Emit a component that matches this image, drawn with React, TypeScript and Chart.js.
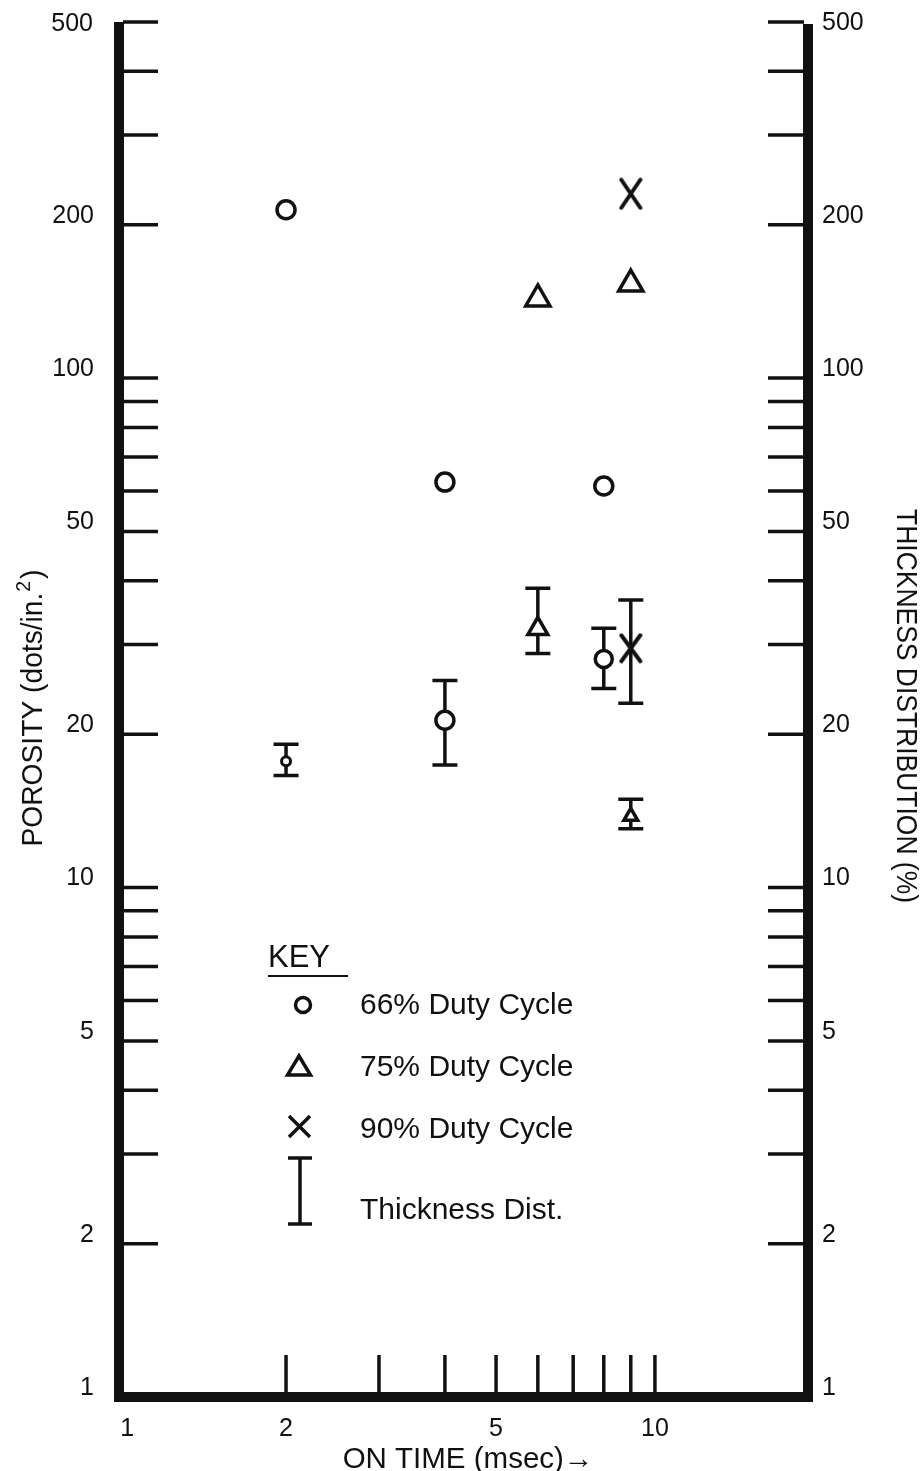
import React, { useEffect, useRef } from 'react';
import { Chart, registerables } from 'chart.js';

Chart.register(...registerables);

// ---------- axis ticks ----------
const xTickLabels = [1, 2, 5, 10];
const xTickMarks = [2, 3, 4, 5, 6, 7, 8, 9, 10];
const yTickLabels = [1, 2, 5, 10, 20, 50, 100, 200, 500];
const yTickMarks = [2, 3, 4, 5, 6, 7, 8, 9, 10, 20, 30, 40, 50, 60, 70, 80, 90, 100, 200, 300, 400, 500];
const yTopLabel = 500;

// ---------- porosity (left axis, dots/in.^2) ----------
const poro66Time = [2, 4, 8];
const poro66Value = [214, 62.5, 61.4];
const poro75Time = [6, 9];
const poro75Value = [143, 153];
const poro90Time = [9];
const poro90Value = [230];

// ---------- thickness distribution (right axis, %) ----------
const thick66Time = [2, 4, 8];
const thick66Value = [17.7, 21.3, 28.1];
const thick66Low = [16.6, 17.4, 24.6];
const thick66High = [19.1, 25.5, 32.3];
const thick75Time = [6, 9];
const thick75Value = [32.2, 13.8];
const thick75Low = [28.8, 13.05];
const thick75High = [38.7, 14.9];
const thick90Time = [9];
const thick90Value = [29.5];
const thick90Low = [23.0];
const thick90High = [36.7];

const legendLabels = ['66% Duty Cycle', '75% Duty Cycle', '90% Duty Cycle', 'Thickness Dist.'];

const INK = '#111';
const FONT = '"Liberation Sans", Arial, Helvetica, sans-serif';
const TICK_SIZE = 25;

function pts(xs: number[], ys: number[]) {
  return xs.map((x, i) => ({ x, y: ys[i] }));
}

function makeX(w: number, h: number, lw: number): HTMLCanvasElement {
  const c = document.createElement('canvas');
  c.width = w;
  c.height = h;
  const g = c.getContext('2d')!;
  g.strokeStyle = INK;
  g.lineWidth = lw;
  g.lineCap = 'round';
  const p = lw / 2 + 0.5;
  g.beginPath();
  g.moveTo(p, p);
  g.lineTo(w - p, h - p);
  g.moveTo(w - p, p);
  g.lineTo(p, h - p);
  g.stroke();
  return c;
}

const errorBarGroups = [
  { time: thick66Time, low: thick66Low, high: thick66High },
  { time: thick75Time, low: thick75Low, high: thick75High },
  { time: thick90Time, low: thick90Low, high: thick90High },
];

function drawFitted(
  ctx: CanvasRenderingContext2D,
  text: string,
  cx: number,
  cy: number,
  size: number,
  rotation: number,
  target: number
) {
  ctx.save();
  ctx.font = `${size}px ${FONT}`;
  const w = ctx.measureText(text).width;
  ctx.translate(cx, cy);
  ctx.rotate(rotation);
  ctx.scale(target / w, 1);
  ctx.textAlign = 'center';
  ctx.textBaseline = 'alphabetic';
  ctx.fillText(text, 0, (size * 0.716) / 2);
  ctx.restore();
}

const framePlugin = {
  id: 'frameAndBars',
  beforeDatasetsDraw(chart: any) {
    const { ctx, chartArea: a, scales } = chart;
    const xs = scales.x, ys = scales.y, ys2 = scales.y2;
    ctx.save();
    ctx.strokeStyle = INK;
    ctx.lineCap = 'butt';
    // inward tick marks
    ctx.lineWidth = 3.5;
    ctx.beginPath();
    for (const v of yTickMarks) {
      const py = ys.getPixelForValue(v);
      ctx.moveTo(a.left + 4, py);
      ctx.lineTo(a.left + 39, py);
    }
    for (const v of yTickMarks) {
      const py = ys2.getPixelForValue(v);
      ctx.moveTo(a.right - 40, py);
      ctx.lineTo(a.right - 4, py);
    }
    for (const v of xTickMarks) {
      const px = xs.getPixelForValue(v);
      ctx.moveTo(px, a.bottom - 4);
      ctx.lineTo(px, a.bottom - 42);
    }
    ctx.stroke();
    // heavy frame
    ctx.lineWidth = 10;
    ctx.lineJoin = 'miter';
    ctx.beginPath();
    ctx.moveTo(a.left, a.top);
    ctx.lineTo(a.left, a.bottom);
    ctx.lineTo(a.right, a.bottom);
    ctx.lineTo(a.right, a.top + 2);
    ctx.stroke();
    // error bars of the thickness distribution
    ctx.lineWidth = 3.5;
    ctx.beginPath();
    for (const g of errorBarGroups) {
      g.time.forEach((t, i) => {
        const px = xs.getPixelForValue(t);
        const top = ys2.getPixelForValue(g.high[i]);
        const bot = ys2.getPixelForValue(g.low[i]);
        ctx.moveTo(px, top);
        ctx.lineTo(px, bot);
        ctx.moveTo(px - 12.5, top);
        ctx.lineTo(px + 12.5, top);
        ctx.moveTo(px - 12.5, bot);
        ctx.lineTo(px + 12.5, bot);
      });
    }
    ctx.stroke();
    ctx.restore();
  },
  afterDraw(chart: any) {
    const ctx: CanvasRenderingContext2D = chart.ctx;
    const ys = chart.scales.y, ys2 = chart.scales.y2;
    ctx.save();
    ctx.fillStyle = INK;
    ctx.strokeStyle = INK;

    // ---- top "500" labels sit level with their tick ----
    ctx.font = `${TICK_SIZE}px ${FONT}`;
    ctx.textBaseline = 'middle';
    ctx.textAlign = 'right';
    ctx.fillText(String(yTopLabel), ys.right - 26, ys.getPixelForValue(yTopLabel) + 2);
    ctx.textAlign = 'left';
    ctx.fillText(String(yTopLabel), ys2.left + 14, ys2.getPixelForValue(yTopLabel) + 1);

    ctx.textBaseline = 'alphabetic';
    ctx.textAlign = 'left';

    // ---- left title (with superscript) ----
    {
      const size = 29;
      const capH = size * 0.716;
      const supSize = 20;
      const main = 'POROSITY (dots/in.';
      const sup = '2';
      const close = ')';
      ctx.font = `${size}px ${FONT}`;
      const wMain = ctx.measureText(main).width;
      const wClose = ctx.measureText(close).width;
      ctx.font = `${supSize}px ${FONT}`;
      const wSup = ctx.measureText(sup).width;
      const total = wMain + wSup + 3 + wClose;
      const target = 277;
      ctx.translate(32, 708);
      ctx.rotate(-Math.PI / 2);
      ctx.scale(target / total, 1);
      const x0 = -total / 2;
      ctx.font = `${size}px ${FONT}`;
      ctx.fillText(main, x0, capH / 2);
      ctx.font = `${supSize}px ${FONT}`;
      ctx.fillText(sup, x0 + wMain + 1, capH / 2 - 12);
      ctx.font = `${size}px ${FONT}`;
      ctx.fillText(close, x0 + wMain + wSup + 3, capH / 2);
      ctx.setTransform(1, 0, 0, 1, 0, 0);
    }

    // ---- right title ----
    drawFitted(ctx, 'THICKNESS DISTRIBUTION (%)', 907, 706, 29, Math.PI / 2, 394);

    // ---- bottom title ----
    {
      const size = 29.5;
      const capH = size * 0.716;
      ctx.font = `${size}px ${FONT}`;
      ctx.textAlign = 'center';
      ctx.fillText('ON TIME (msec)\u2192', 468, 1457 + capH / 2);
      ctx.textAlign = 'left';
    }

    // ---- key ----
    {
      const size = 30;
      const capH = size * 0.716;
      ctx.font = `31px ${FONT}`;
      ctx.fillText('KEY', 268, 956 + (31 * 0.716) / 2);
      ctx.lineWidth = 2;
      ctx.beginPath();
      ctx.moveTo(268, 976);
      ctx.lineTo(348, 976);
      ctx.stroke();

      ctx.lineWidth = 3.5;
      // circle
      ctx.beginPath();
      ctx.arc(303, 1005, 7.5, 0, Math.PI * 2);
      ctx.stroke();
      // triangle
      ctx.lineJoin = 'miter';
      ctx.beginPath();
      ctx.moveTo(299, 1056);
      ctx.lineTo(310.5, 1075);
      ctx.lineTo(287.5, 1075);
      ctx.closePath();
      ctx.stroke();
      // X
      ctx.beginPath();
      ctx.moveTo(289, 1116);
      ctx.lineTo(310, 1137);
      ctx.moveTo(310, 1116);
      ctx.lineTo(289, 1137);
      ctx.stroke();
      // I bar
      ctx.beginPath();
      ctx.moveTo(300, 1158);
      ctx.lineTo(300, 1224);
      ctx.moveTo(288, 1158);
      ctx.lineTo(312, 1158);
      ctx.moveTo(288, 1224);
      ctx.lineTo(312, 1224);
      ctx.stroke();

      ctx.font = `${size}px ${FONT}`;
      ctx.fillText(legendLabels[0], 360, 1003 + capH / 2);
      ctx.fillText(legendLabels[1], 360, 1065 + capH / 2);
      ctx.fillText(legendLabels[2], 360, 1127 + capH / 2);
      ctx.fillText(legendLabels[3], 360, 1208 + capH / 2);
    }
    ctx.restore();
  },
};

export default function App() {
  const ref = useRef<HTMLCanvasElement>(null);

  useEffect(() => {
    const canvas = ref.current;
    if (!canvas) return;
    const xBig = makeX(24, 33, 4);
    const xMid = makeX(24, 31, 4);

    const tickFont = { family: FONT, size: TICK_SIZE };
    const noPad = (s: any) => {
      s.paddingTop = 0;
      s.paddingBottom = 0;
      s.paddingLeft = 0;
      s.paddingRight = 0;
    };
    const yLabel = (v: any) => (Number(v) === yTopLabel ? '' : String(v));
    const yScaleBase = {
      type: 'logarithmic' as const,
      min: 1,
      max: 500,
      grid: { display: false, drawTicks: false },
      border: { display: false },
      afterBuildTicks: (s: any) => {
        s.ticks = yTickLabels.map((v) => ({ value: v }));
      },
    };

    const chart = new Chart(canvas, {
      type: 'scatter',
      data: {
        datasets: [
          {
            label: '66% porosity',
            data: pts(poro66Time, poro66Value),
            yAxisID: 'y',
            pointStyle: 'circle',
            pointRadius: 9,
            borderWidth: 3.5,
            borderColor: INK,
            backgroundColor: '#fff',
          },
          {
            label: '75% porosity',
            data: pts(poro75Time, poro75Value),
            yAxisID: 'y',
            pointStyle: 'triangle',
            pointRadius: 14,
            borderWidth: 3.5,
            borderColor: INK,
            backgroundColor: '#fff',
          },
          {
            label: '90% porosity',
            data: pts(poro90Time, poro90Value),
            yAxisID: 'y',
            pointStyle: xBig,
            pointRadius: 12,
            borderColor: INK,
            backgroundColor: INK,
          },
          {
            label: '66% thickness',
            data: pts(thick66Time, thick66Value),
            yAxisID: 'y2',
            pointStyle: 'circle',
            pointRadius: [4.5, 9, 8.5],
            borderWidth: [3, 3.5, 3.5],
            borderColor: INK,
            backgroundColor: '#fff',
          },
          {
            label: '75% thickness',
            data: pts(thick75Time, thick75Value),
            yAxisID: 'y2',
            pointStyle: 'triangle',
            pointRadius: [11.5, 8],
            borderWidth: 3.5,
            borderColor: INK,
            backgroundColor: '#fff',
          },
          {
            label: '90% thickness',
            data: pts(thick90Time, thick90Value),
            yAxisID: 'y2',
            pointStyle: xMid,
            pointRadius: 12,
            borderColor: INK,
            backgroundColor: INK,
          },
        ],
      },
      options: {
        responsive: false,
        animation: false,
        events: [],
        layout: { padding: { top: 22, left: 0, right: 0, bottom: 0 } },
        plugins: {
          legend: { display: false },
          tooltip: { enabled: false },
          title: { display: false },
        },
        scales: {
          x: {
            type: 'logarithmic',
            position: 'bottom',
            min: 0.965,
            max: 19.5,
            grid: { display: false, drawTicks: false },
            border: { display: false },
            afterBuildTicks: (s: any) => {
              s.ticks = xTickLabels.map((v) => ({ value: v }));
            },
            afterFit: (s: any) => {
              s.height = 74;
              noPad(s);
            },
            ticks: {
              autoSkip: false,
              maxRotation: 0,
              color: INK,
              font: tickFont,
              padding: 17,
              callback: (v: any) => String(v),
            },
          },
          y: {
            ...yScaleBase,
            position: 'left',
            afterFit: (s: any) => {
              s.width = 119;
              noPad(s);
            },
            ticks: {
              autoSkip: false,
              color: INK,
              font: tickFont,
              padding: 25,
              labelOffset: -9,
              callback: yLabel,
            },
          },
          y2: {
            ...yScaleBase,
            position: 'right',
            afterFit: (s: any) => {
              s.width = 116;
              noPad(s);
            },
            ticks: {
              autoSkip: false,
              color: INK,
              font: tickFont,
              padding: 14,
              labelOffset: -9,
              callback: yLabel,
            },
          },
        },
      } as any,
      plugins: [framePlugin],
    });

    return () => chart.destroy();
  }, []);

  return (
    <div style={{ position: 'absolute', left: 0, top: 0, width: 924, height: 1471, background: '#fff' }}>
      <canvas ref={ref} width={924} height={1471} style={{ display: 'block', width: 924, height: 1471 }} />
    </div>
  );
}
